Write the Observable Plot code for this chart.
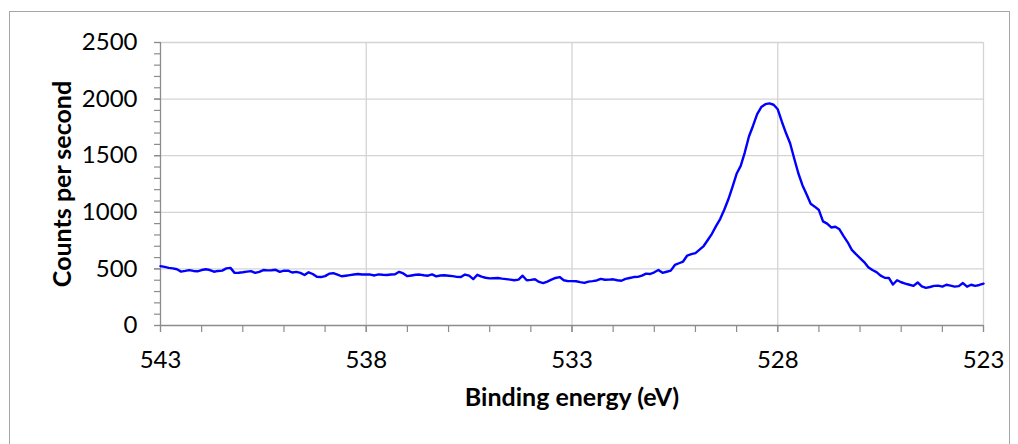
<!DOCTYPE html>
<html>
<head>
<meta charset="utf-8">
<script src="https://cdn.jsdelivr.net/npm/d3@7"></script>
<script src="https://cdn.jsdelivr.net/npm/@observablehq/plot@0.6"></script>
<style>
  html, body { margin: 0; padding: 0; background: #fff; overflow: hidden; }
  #wrap { position: relative; width: 1018px; height: 444px; overflow: hidden; }
  #frame { position: absolute; left: 9px; top: 11px; width: 1001px; height: 460px;
           border: 1.5px solid #a6a6a6; box-sizing: border-box; }
  #chart { position: absolute; left: 0; top: 0; }
</style>
</head>
<body>
<div id="wrap"><div id="frame"></div><div id="chart"></div></div>
<script>
// Binding energy axis: 543 eV down to 523 eV in 0.1 eV steps
const energyStart = 543;
const energyStep = -0.1;
const counts = [
  524,518,509,505,497,476,482,489,482,479,490,497,490,475,482,485,505,509,465,466,
  470,476,480,465,474,490,487,488,492,474,485,484,468,474,465,446,470,455,430,428,
  436,458,462,450,435,440,445,450,455,450,452,
  450,442,452,448,446,450,452,474,460,436,442,448,450,444,440,452,434,442,444,440,
  436,430,428,450,440,410,448,432,422,416,418,420,414,410,405,400,405,440,400,403,
  409,385,375,388,405,420,428,400,392,392,
  391,383,376,388,392,398,412,404,405,408,400,395,412,420,428,430,440,458,455,470,
  490,465,475,485,535,550,565,618,630,640,670,702,755,
  810,878,940,1022,1115,1225,1340,1410,1530,1670,1765,1868,1930,1955,1962,1950,
  1910,1800,1700,1610,1475,1345,
  1240,1160,1075,1050,1020,920,900,866,872,850,790,735,668,630,595,560,515,490,472,
  441,422,420,362,400,382,370,360,350,380,345,333,340,350,352,343,360,352,343,348,
  375,343,360,350,358,370
];
const xMajorTicks = [543, 538, 533, 528, 523];
const xMinorTicks = d3.range(523, 544, 1);
const yMajorTicks = [0, 500, 1000, 1500, 2000, 2500];
const yMinorTicks = d3.range(0, 2501, 100);
const xTitle = "Binding energy (eV)";
const yTitle = "Counts per second";

const data = counts.map((c, i) => ({ energy: +(energyStart + energyStep * i).toFixed(1), cps: c }));

const font = "Lato, 'Open Sans', sans-serif";
const axisColor = "#8c8c8c";
const gridColor = "#d4d4d4";
const plain = d => String(d);

const chart = Plot.plot({
  width: 1018,
  height: 444,
  marginLeft: 160,
  marginRight: 35,
  marginTop: 42,
  marginBottom: 119,
  style: { fontFamily: font, background: "transparent", color: "#000" },
  x: { domain: [543, 523], axis: null, label: null },
  y: { domain: [0, 2500], axis: null, label: null },
  marks: [
    Plot.gridX(xMajorTicks.slice(1), { stroke: gridColor, strokeOpacity: 1, strokeWidth: 1.3 }),
    Plot.gridY(yMajorTicks.slice(1), { stroke: gridColor, strokeOpacity: 1, strokeWidth: 1.3 }),
    Plot.axisX(xMinorTicks, { anchor: "bottom", tickSize: 7, text: null, label: null, stroke: axisColor, strokeWidth: 1.2 }),
    Plot.axisX(xMajorTicks, { anchor: "bottom", tickSize: 7, tickPadding: 18, fontSize: 24, tickFormat: plain, fill: "#000", stroke: axisColor, strokeWidth: 1.2, label: null }),
    Plot.axisY(yMinorTicks, { anchor: "left", tickSize: 6, text: null, label: null, stroke: axisColor, strokeWidth: 1.2 }),
    Plot.axisY(yMajorTicks, { anchor: "left", tickSize: 6, tickPadding: 17, fontSize: 24, tickFormat: plain, fill: "#000", stroke: axisColor, strokeWidth: 1.2, label: null }),
    Plot.ruleY([0], { stroke: axisColor, strokeWidth: 1.3 }),
    Plot.ruleX([543], { stroke: axisColor, strokeWidth: 1.3 }),
    Plot.line(data, { x: "energy", y: "cps", stroke: "#0000ff", strokeWidth: 2.4, curve: "linear" }),
    Plot.text([xTitle], { frameAnchor: "bottom", dy: 80, fontSize: 25, fontWeight: "bold", fill: "#000" }),
    Plot.text([yTitle], { frameAnchor: "left", dx: -98, rotate: -90, textAnchor: "middle", fontSize: 25, fontWeight: "bold", fill: "#000" })
  ]
});
document.getElementById("chart").appendChild(chart);
</script>
</body>
</html>
